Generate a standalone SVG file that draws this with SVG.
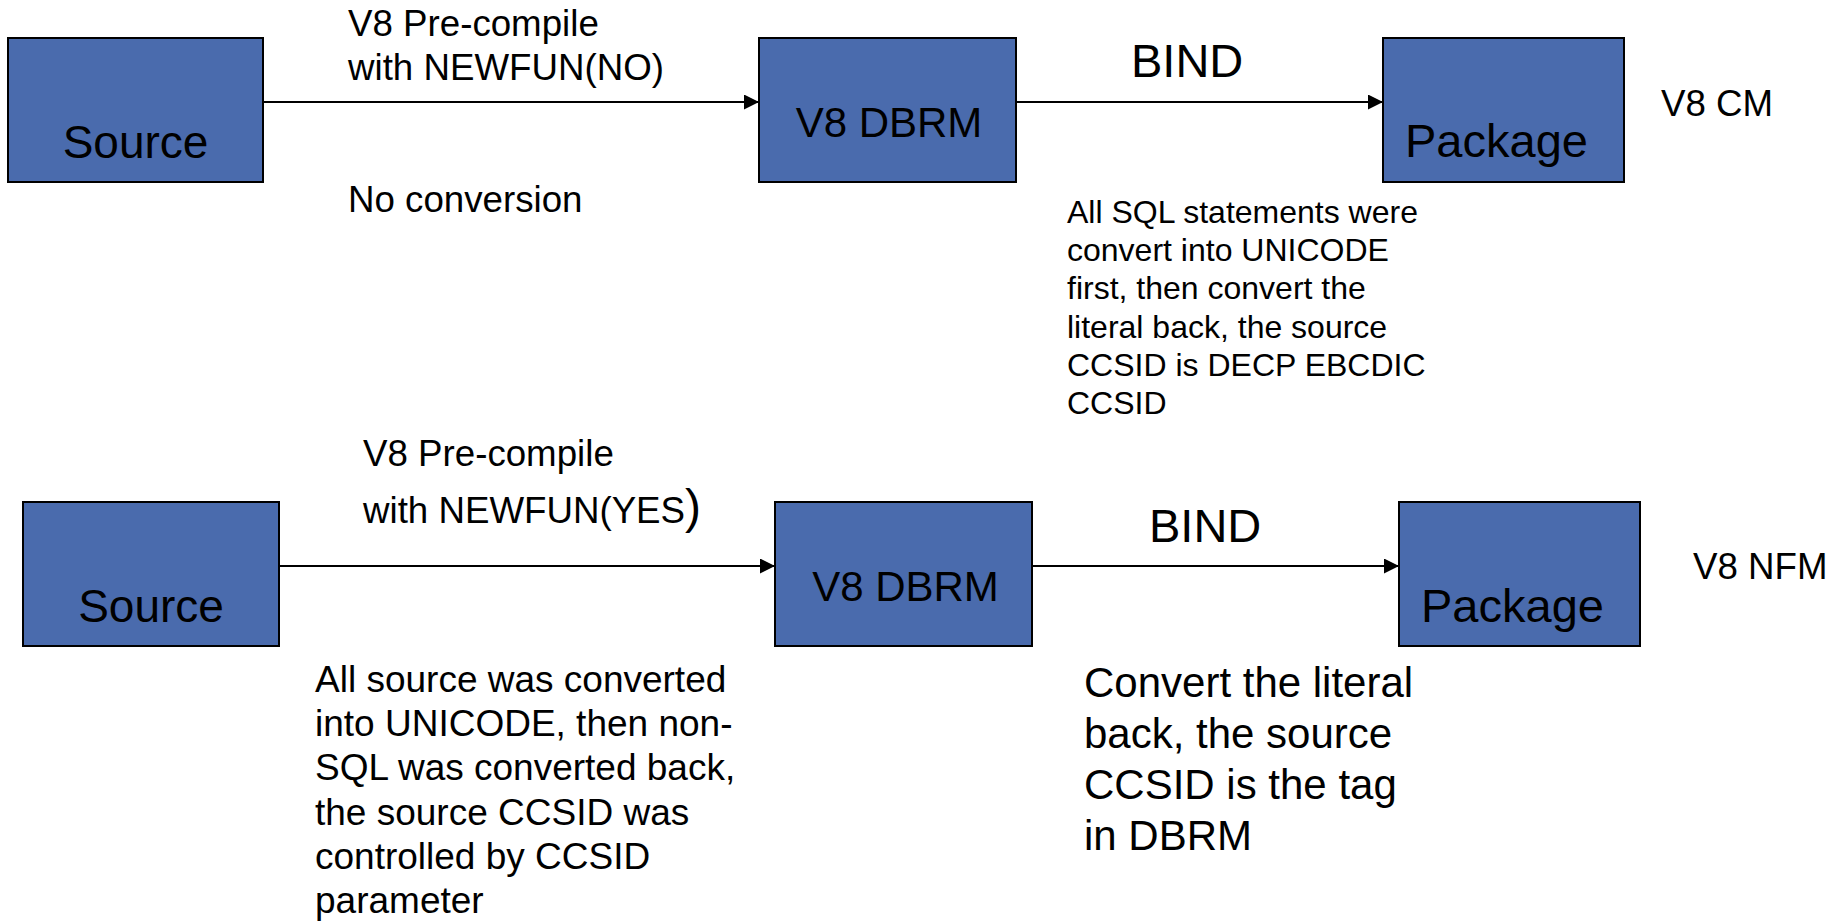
<svg xmlns="http://www.w3.org/2000/svg" width="1840" height="921" viewBox="0 0 1840 921">
<style>
.box{fill:#4a6bad;stroke:#000;stroke-width:2}
text{font-family:"Liberation Sans",Arial,sans-serif;fill:#000}
.big{font-size:46px}
.mid{font-size:42px}
.lab{font-size:36.7px}
.sm{font-size:32px}
.conn{stroke:#000;stroke-width:2;fill:none}
</style>
<defs>
<marker id="arr" markerUnits="userSpaceOnUse" markerWidth="16" markerHeight="16" refX="15" refY="7.5" orient="auto">
<path d="M0,0 L15,7.5 L0,15 z" fill="#000"/>
</marker>
</defs>
<rect width="1840" height="921" fill="#fff"/>
<g id="connectors">
<line class="conn" x1="263" y1="102" x2="759" y2="102" marker-end="url(#arr)"/>
<line class="conn" x1="1016" y1="102" x2="1383" y2="102" marker-end="url(#arr)"/>
<line class="conn" x1="279" y1="566" x2="775" y2="566" marker-end="url(#arr)"/>
<line class="conn" x1="1032" y1="566" x2="1399" y2="566" marker-end="url(#arr)"/>
</g>
<g id="source1">
<rect class="box" x="8" y="38" width="255" height="144"/>
<text class="big" x="135.5" y="158" text-anchor="middle">Source</text>
</g>
<g id="dbrm1">
<rect class="box" x="759" y="38" width="257" height="144"/>
<text class="mid" x="889" y="137" text-anchor="middle">V8 DBRM</text>
</g>
<g id="package1">
<rect class="box" x="1383" y="38" width="241" height="144"/>
<text class="big" x="1405" y="157" style="font-size:47px">Package</text>
</g>
<g id="source2">
<rect class="box" x="23" y="502" width="256" height="144"/>
<text class="big" x="151" y="622" text-anchor="middle">Source</text>
</g>
<g id="dbrm2">
<rect class="box" x="775" y="502" width="257" height="144"/>
<text class="mid" x="905.5" y="601" text-anchor="middle">V8 DBRM</text>
</g>
<g id="package2">
<rect class="box" x="1399" y="502" width="241" height="144"/>
<text class="big" x="1421" y="622" style="font-size:47px">Package</text>
</g>
<g id="labels">
<text class="lab" x="348" y="36">V8 Pre-compile</text>
<text class="lab" x="348" y="80">with NEWFUN(NO)</text>
<text class="lab" x="348" y="212">No conversion</text>
<text x="1131" y="77" style="font-size:47px">BIND</text>
<text class="lab" x="1661" y="116">V8 CM</text>
<text class="sm" x="1067"><tspan x="1067" y="223">All SQL statements were</tspan><tspan x="1067" y="261">convert into UNICODE</tspan><tspan x="1067" y="299">first, then convert the</tspan><tspan x="1067" y="338">literal back, the source</tspan><tspan x="1067" y="376">CCSID is DECP EBCDIC</tspan><tspan x="1067" y="414">CCSID</tspan></text>
<text class="lab" x="363" y="466">V8 Pre-compile</text>
<text class="lab" x="363" y="523">with NEWFUN(YES<tspan style="font-size:48px">)</tspan></text>
<text x="1149" y="542" style="font-size:47px">BIND</text>
<text class="lab" x="1693" y="579">V8 NFM</text>
<text style="font-size:37px"><tspan x="315" y="692">All source was converted</tspan><tspan x="315" y="736">into UNICODE, then non-</tspan><tspan x="315" y="780">SQL was converted back,</tspan><tspan x="315" y="825">the source CCSID was</tspan><tspan x="315" y="869">controlled by CCSID</tspan><tspan x="315" y="913">parameter</tspan></text>
<text class="mid"><tspan x="1084" y="697">Convert the literal</tspan><tspan x="1084" y="748">back, the source</tspan><tspan x="1084" y="799">CCSID is the tag</tspan><tspan x="1084" y="850">in DBRM</tspan></text>
</g>
</svg>
